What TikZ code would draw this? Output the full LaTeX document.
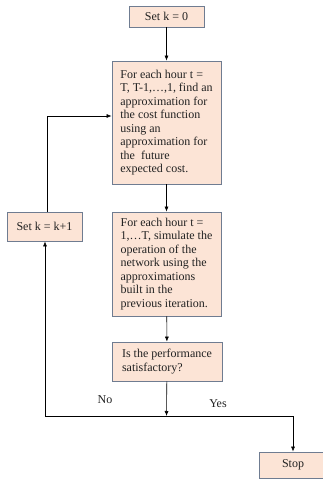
\documentclass[tikz,border=0pt]{standalone}
\usepackage{fontspec}
\setmainfont{Liberation Serif}
\usetikzlibrary{arrows.meta}
\definecolor{boxfill}{HTML}{FCE4D6}
\definecolor{boxline}{HTML}{6F7C91}
\definecolor{txt}{HTML}{222222}
\begin{document}
\begin{tikzpicture}[x=1pt,y=-1pt,
  box/.style={draw=boxline, fill=boxfill, line width=0.8pt, text=txt,
    font=\fontsize{12}{13.5}\selectfont, inner sep=0pt},
  bigbox/.style={box, align=left, minimum width=109pt},
  smallbox/.style={box, align=center},
  arr/.style={-{Latex[length=5pt,width=4pt]}, line width=0.6pt},
  ln/.style={line width=0.6pt},
  lab/.style={text=txt, font=\fontsize{12}{13.5}\selectfont}]
\useasboundingbox (0,0) rectangle (323,481);
\clip (0,0) rectangle (323,481);
\node[smallbox, minimum width=75pt, minimum height=21pt] (k0) at (166.5,16.5) {Set k = 0};
\node[bigbox, minimum height=123pt] (b2) at (166.5,122.5) {For each hour t =\\T, T-1,…,1, find an\\approximation for\\the cost function\\using an\\approximation for\\the\ \ future\\expected cost.};
\node[bigbox, minimum height=104pt] (b3) at (166.5,264) {For each hour t =\\1,…T, simulate the\\operation of the\\network using the\\approximations\\built in the\\previous iteration.};
\node[smallbox, minimum width=75pt, minimum height=29pt] (kk) at (44.5,226.5) {Set k = k+1};
\node[bigbox, minimum height=39pt, minimum width=110pt] (b4) at (167,361.5) {Is the performance\\satisfactory?};
\node[smallbox, minimum width=68pt, minimum height=26pt] (stop) at (293,465) {Stop};
\coordinate (jl) at (45,416);
\coordinate (jm) at (166.5,416);
\coordinate (jr) at (293,416);
\draw[arr] (k0) -- (b2);
\draw[arr] (b2) -- (b3);
\draw[arr] (b3) -- (b4);
\draw[arr] (b4) -- (jm);
\draw[ln] (jl) -- (jr);
\draw[arr] (jl) -- (jl |- kk.south);
\draw[arr] (jr) -- (stop.north);
\draw[arr] ([xshift=2.5pt]kk.north) |- ([yshift=6.5pt]b2.west);
\node[lab] (no) at (105,400) {No};
\node[lab] (yes) at (218,404) {Yes};
\end{tikzpicture}
\end{document}
